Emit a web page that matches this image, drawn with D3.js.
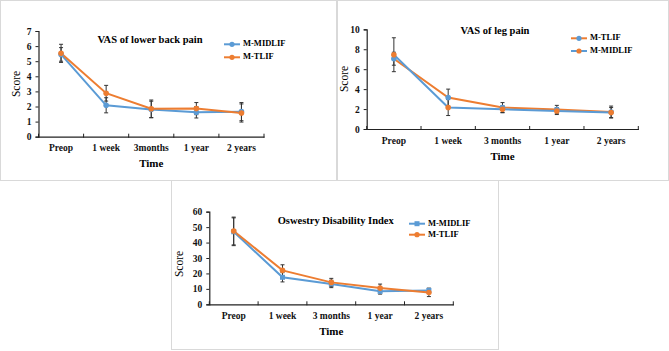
<!DOCTYPE html>
<html><head><meta charset="utf-8">
<script src="https://cdn.jsdelivr.net/npm/d3@7"></script>
<style>body{margin:0;background:#fff}svg{display:block}</style>
</head><body>
<script>
// ---- data ----
const categoriesLBP = ["Preop","1 week","3months","1 year","2 years"];
const categories = ["Preop","1 week","3 months","1 year","2 years"];

const lbpMidlif = [5.45, 2.08, 1.80, 1.62, 1.66];
const lbpMidlifErr = [0.45, 0.50, 0.55, 0.38, 0.60];
const lbpTlif = [5.52, 2.88, 1.85, 1.86, 1.57];
const lbpTlifErr = [0.60, 0.52, 0.58, 0.40, 0.60];

const legTlif = [7.05, 3.15, 2.15, 1.95, 1.70];
const legTlifErr = [0.65, 0.85, 0.50, 0.42, 0.60];
const legMidlif = [7.45, 2.15, 1.98, 1.80, 1.65];
const legMidlifErr = [1.70, 0.80, 0.35, 0.35, 0.50];

const odiMidlif = [47.0, 17.5, 13.2, 8.4, 9.0];
const odiMidlifErr = [9.0, 3.0, 2.4, 1.8, 1.5];
const odiTlif = [47.5, 22.0, 14.2, 10.5, 7.6];
const odiTlifErr = [9.0, 3.6, 2.6, 2.6, 2.6];

const yTicksLBP = [0,1,2,3,4,5,6,7];
const yTicksLeg = [0,2,4,6,8,10];
const yTicksODI = [0,10,20,30,40,50,60];

const BLUE = "#5B9BD5", ORANGE = "#ED7D31";
const FONT = "'Liberation Serif','Times New Roman',serif";

const svg = d3.select("body").append("svg").attr("width",669).attr("height",351);

// panel frames
const frames = [[0.5,0.5,336.5,180.5],[337.5,0.5,668.5,180.5],[171.5,180.5,498.5,349.5]];
frames.forEach(f=>svg.append("rect").attr("x",f[0]).attr("y",f[1]).attr("width",f[2]-f[0]).attr("height",f[3]-f[1])
  .attr("fill","#fff").attr("stroke","#d9d9d9").attr("stroke-width",1));

function panel(cfg){
  const g = svg.append("g");
  const x = d3.scaleBand().domain(cfg.cats).range([cfg.left,cfg.right]).padding(0);
  const y = d3.scaleLinear().domain([0,cfg.ymax]).range([cfg.bottom,cfg.top]);
  // y axis
  const ya = g.append("g").attr("transform",`translate(${cfg.left},0)`)
    .call(d3.axisLeft(y).tickValues(cfg.yticks).tickSize(3).tickPadding(4).tickFormat(d3.format("d")));
  ya.select(".domain").attr("stroke","#222").attr("stroke-width",1.2);
  ya.selectAll(".tick line").attr("stroke","#222");
  ya.selectAll("text").attr("font-family",FONT).attr("font-weight","bold").attr("font-size",9.5).attr("fill","#111");
  // x axis
  const xa = g.append("g").attr("transform",`translate(0,${cfg.bottom})`)
    .call(d3.axisBottom(x).tickSize(0).tickPadding(8));
  xa.select(".domain").attr("stroke","#222").attr("stroke-width",1.2);
  xa.selectAll("text").attr("font-family",FONT).attr("font-weight","bold").attr("font-size",9.5).attr("fill","#111");
  // boundary ticks
  const bounds = cfg.cats.map(c=>x(c)).concat([x(cfg.cats[cfg.cats.length-1])+x.bandwidth()]);
  g.selectAll(".bt").data(bounds).enter().append("line")
    .attr("x1",d=>d).attr("x2",d=>d).attr("y1",cfg.bottom-3).attr("y2",cfg.bottom+1)
    .attr("stroke","#222").attr("stroke-width",1);
  // labels
  g.append("text").attr("x",(cfg.left+cfg.right)/2).attr("y",cfg.bottom+28).attr("text-anchor","middle")
    .attr("dominant-baseline","middle").attr("font-family",FONT).attr("font-weight","bold").attr("font-size",11).text("Time");
  g.append("text").attr("transform",`translate(${cfg.scoreX},${cfg.scoreY}) rotate(-90)`).attr("text-anchor","middle")
    .attr("dominant-baseline","middle").attr("font-family",FONT).attr("font-size",11.5).text("Score");
  g.append("text").attr("x",cfg.titleX).attr("y",cfg.titleY).attr("text-anchor","middle").attr("dominant-baseline","middle")
    .attr("font-family",FONT).attr("font-weight","bold").attr("font-size",10.5).text(cfg.title);

  const cx = i => x(cfg.cats[i]) + x.bandwidth()/2;
  // series
  cfg.series.forEach(s=>{
    const line = d3.line().x((d,i)=>cx(i)).y(d=>y(d));
    g.append("path").datum(s.values).attr("d",line).attr("fill","none").attr("stroke",s.line).attr("stroke-width",2);
  });
  cfg.series.forEach(s=>{
    s.values.forEach((v,i)=>{
      const e = s.err[i];
      g.append("line").attr("x1",cx(i)).attr("x2",cx(i)).attr("y1",y(v+e)).attr("y2",y(v-e)).attr("stroke","#333").attr("stroke-width",1);
      [v+e,v-e].forEach(t=>g.append("line").attr("x1",cx(i)-2).attr("x2",cx(i)+2).attr("y1",y(t)).attr("y2",y(t)).attr("stroke","#333").attr("stroke-width",1));
    });
  });
  cfg.series.forEach(s=>{
    g.selectAll(null).data(s.values).enter().append(s.shape==="square"?"rect":"circle")
      .each(function(d,i){
        const el = d3.select(this);
        if(s.shape==="square") el.attr("x",cx(i)-2.5).attr("y",y(d)-2.5).attr("width",5).attr("height",5);
        else el.attr("cx",cx(i)).attr("cy",y(d)).attr("r",2.8);
      }).attr("fill",s.marker);
  });
  // legend
  cfg.series.forEach((s,k)=>{
    const ly = cfg.legY[k];
    g.append("line").attr("x1",cfg.legX).attr("x2",cfg.legX+16).attr("y1",ly).attr("y2",ly).attr("stroke",s.line).attr("stroke-width",2);
    if(s.shape==="square") g.append("rect").attr("x",cfg.legX+8-2.5).attr("y",ly-2.5).attr("width",5).attr("height",5).attr("fill",s.marker);
    else g.append("circle").attr("cx",cfg.legX+8).attr("cy",ly).attr("r",2.6).attr("fill",s.marker);
    g.append("text").attr("x",cfg.legX+19).attr("y",ly).attr("dominant-baseline","middle")
      .attr("font-family",FONT).attr("font-weight","bold").attr("font-size",8.5).text(s.name);
  });
}

panel({cats:categoriesLBP,left:38.5,right:264,top:31,bottom:136.7,ymax:7,yticks:yTicksLBP,
  scoreX:17,scoreY:84,titleX:150,titleY:41,title:"VAS of lower back pain",legX:224,legY:[44.3,57.3],
  series:[
    {name:"M-MIDLIF",values:lbpMidlif,err:lbpMidlifErr,line:BLUE,marker:BLUE},
    {name:"M-TLIF",values:lbpTlif,err:lbpTlifErr,line:ORANGE,marker:ORANGE}
  ]});

panel({cats:categories,left:366.7,right:638.3,top:29.3,bottom:129,ymax:10,yticks:yTicksLeg,
  scoreX:345.7,scoreY:79,titleX:495,titleY:31.7,title:"VAS of leg pain",legX:571,legY:[38.3,51],
  series:[
    {name:"M-TLIF",values:legTlif,err:legTlifErr,line:ORANGE,marker:BLUE},
    {name:"M-MIDLIF",values:legMidlif,err:legMidlifErr,line:BLUE,marker:ORANGE}
  ]});

panel({cats:categories,left:209.3,right:453.3,top:211.7,bottom:304.3,ymax:60,yticks:yTicksODI,
  scoreX:180,scoreY:264,titleX:335.7,titleY:222,title:"Oswestry Disability Index",legX:409,legY:[223.7,234.7],
  series:[
    {name:"M-MIDLIF",values:odiMidlif,err:odiMidlifErr,line:BLUE,marker:BLUE,shape:"square"},
    {name:"M-TLIF",values:odiTlif,err:odiTlifErr,line:ORANGE,marker:ORANGE}
  ]});
</script>
</body></html>
